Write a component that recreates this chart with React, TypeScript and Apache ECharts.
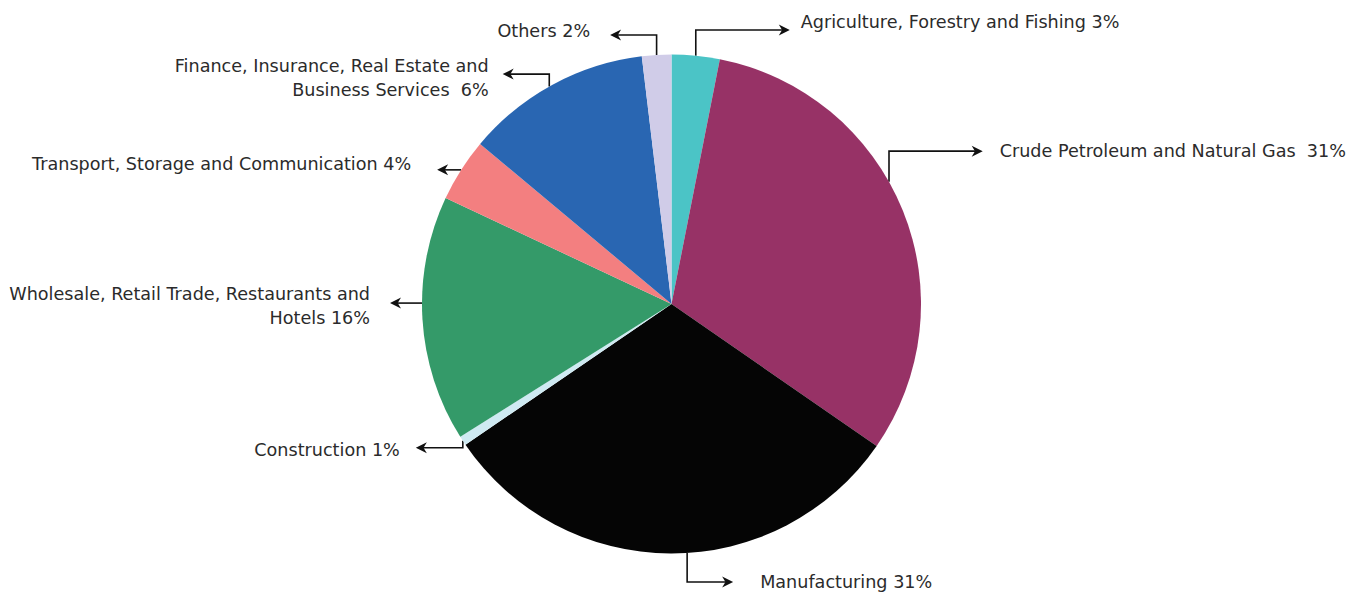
import React, { useEffect, useRef } from "react";
import * as echarts from "echarts";

// ---- data ----
const categories = [
  "Agriculture, Forestry and Fishing",
  "Crude Petroleum and Natural Gas",
  "Manufacturing",
  "Construction",
  "Wholesale, Retail Trade, Restaurants and\nHotels",
  "Transport, Storage and Communication",
  "Finance, Insurance, Real Estate and\nBusiness Services",
  "Others",
];
// slice sizes as drawn
const sliceValues = [3.1, 31.5, 30.8, 0.6, 15.9, 4.1, 12.0, 1.9];
// percentages printed in labels
const labelPercents = ["3%", "31%", "31%", "1%", "16%", "4%", "6%", "2%"];
const labelSeparators = [" ", "  ", " ", " ", " ", " ", "  ", " "];
const colors = ["#4BC4C6", "#973266", "#050505", "#CFEAF2", "#349A69", "#F37F80", "#2966B2", "#D0CCE8"];

// ---- layout of annotation arrows ----
const CX = 671.5;
const CY = 304;
const R = 249.5;
const anchorFrac = [0.5, 0.436, 0.466, 0.5, 0.565, 0.5, 0.48, 0.5];
const vertDir = [-1, -1, 1, 1, 0, 0, -1, -1];
const vertLen = [25.7, 30.6, 29, 7, 0, 0, 12.4, 20];
const horDir = [1, 1, 1, -1, -1, -1, -1, -1];
const horLen = [94, 93.7, 46, 47, 32, 24, 46.6, 46.5];
const textGap = [11, 17, 27, 16, 20, 26, 14, 20];
const textDy = [-8, 0, 0, 2, 3, -6, 4, -4];

function geometry() {
  const total = sliceValues.reduce((a, b) => a + b, 0);
  let cum = 0;
  return sliceValues.map((v, i) => {
    const a0 = (cum / total) * 360;
    cum += v;
    const a1 = (cum / total) * 360;
    const th = ((a0 + (a1 - a0) * anchorFrac[i]) * Math.PI) / 180;
    const x0 = CX + R * Math.sin(th);
    const y0 = CY - R * Math.cos(th);
    const y1 = y0 + vertDir[i] * vertLen[i];
    const tipX = x0 + horDir[i] * horLen[i];
    const pts: number[][] = [[x0, y0]];
    if (vertLen[i] > 0) pts.push([x0, y1]);
    pts.push([tipX - horDir[i] * 7, y1]);
    return {
      pts,
      tipX,
      tipY: y1,
      d: horDir[i],
      textX: tipX + horDir[i] * textGap[i],
      textY: y1 + textDy[i],
    };
  });
}

export default function App() {
  const ref = useRef<HTMLDivElement>(null);
  useEffect(() => {
    document.body.style.margin = "0";
    if (!ref.current) return;
    const chart = echarts.init(ref.current, undefined, { renderer: "svg" });
    const geo = geometry();
    const graphics: any[] = [];
    geo.forEach((g) => {
      graphics.push({
        type: "polyline",
        shape: { points: g.pts },
        style: { stroke: "#111", lineWidth: 1.6, fill: null },
        silent: true,
      });
      const L = 11;
      const W = 5.5;
      graphics.push({
        type: "polygon",
        shape: {
          points: [
            [g.tipX, g.tipY],
            [g.tipX - g.d * L, g.tipY - W],
            [g.tipX - g.d * L * 0.7, g.tipY],
            [g.tipX - g.d * L, g.tipY + W],
          ],
        },
        style: { fill: "#111" },
        silent: true,
      });
    });
    chart.setOption({
      animation: false,
      backgroundColor: "#ffffff",
      graphic: graphics,
      series: [
        {
          type: "pie",
          center: [CX, CY],
          radius: R,
          startAngle: 90,
          clockwise: true,
          avoidLabelOverlap: false,
          itemStyle: { borderWidth: 0 },
          emphasis: { disabled: true },
          data: categories.map((name, i) => ({
            name,
            value: sliceValues[i],
            itemStyle: { color: colors[i] },
          })),
          label: {
            show: true,
            position: "outside",
            fontFamily: "DejaVu Sans",
            fontSize: 17.6,
            lineHeight: 24,
            color: "#2b2b2b",
            formatter: (p: any) => p.name + labelSeparators[p.dataIndex] + labelPercents[p.dataIndex],
          },
          labelLine: { show: false },
          labelLayout: (p: any) => {
            const g = geo[p.dataIndex];
            return {
              x: g.textX,
              y: g.textY,
              align: g.d > 0 ? "left" : "right",
              verticalAlign: "middle",
            };
          },
        },
      ],
    });
    return () => chart.dispose();
  }, []);
  return <div ref={ref} style={{ width: 1365, height: 596 }} />;
}
